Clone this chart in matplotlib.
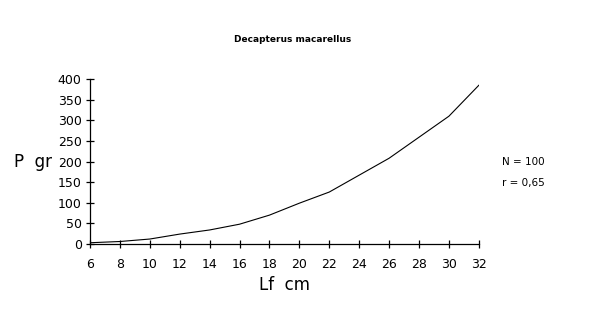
import matplotlib
matplotlib.use('Agg')
import matplotlib.pyplot as plt

# length (cm) and weight (g)
lf_cm = [6, 8, 10, 12, 14, 16, 18, 20, 22, 24, 26, 28, 30, 32]
p_gr = [3, 6, 12, 24, 34, 48, 70, 99, 126, 167, 208, 259, 310, 385]

x_ticks = list(range(6, 34, 2))
y_ticks = list(range(0, 450, 50))

fig = plt.figure(figsize=(6, 3.14), dpi=100)
ax = fig.add_axes([0.15, 0.223, 0.648, 0.525])

ax.plot(lf_cm, p_gr, color='black', linewidth=0.8)

ax.set_xlim(6, 32)
ax.set_ylim(0, 400)
ax.set_xticks(x_ticks)
ax.set_yticks(y_ticks)
ax.spines['top'].set_visible(False)
ax.spines['right'].set_visible(False)
ax.spines['left'].set_linewidth(0.9)
ax.spines['bottom'].set_linewidth(0.9)
ax.tick_params(direction='inout', length=6, width=0.9, labelsize=9)
ax.tick_params(axis='x', pad=7)
ax.tick_params(axis='y', pad=3)

# titles and labels as free text like the original print
fig.text(0.487, 0.875, 'Decapterus macarellus', ha='center', va='center',
         fontsize=6.5, fontweight='bold')
fig.text(0.055, 0.485, 'P  gr', ha='center', va='center', fontsize=12)
ax.set_xlabel('Lf  cm', fontsize=12, labelpad=4)

fig.text(0.873, 0.485, 'N = 100', ha='center', va='center', fontsize=7.5)
fig.text(0.873, 0.418, 'r = 0,65', ha='center', va='center', fontsize=7.5)

fig.savefig('out.png', dpi=100)
